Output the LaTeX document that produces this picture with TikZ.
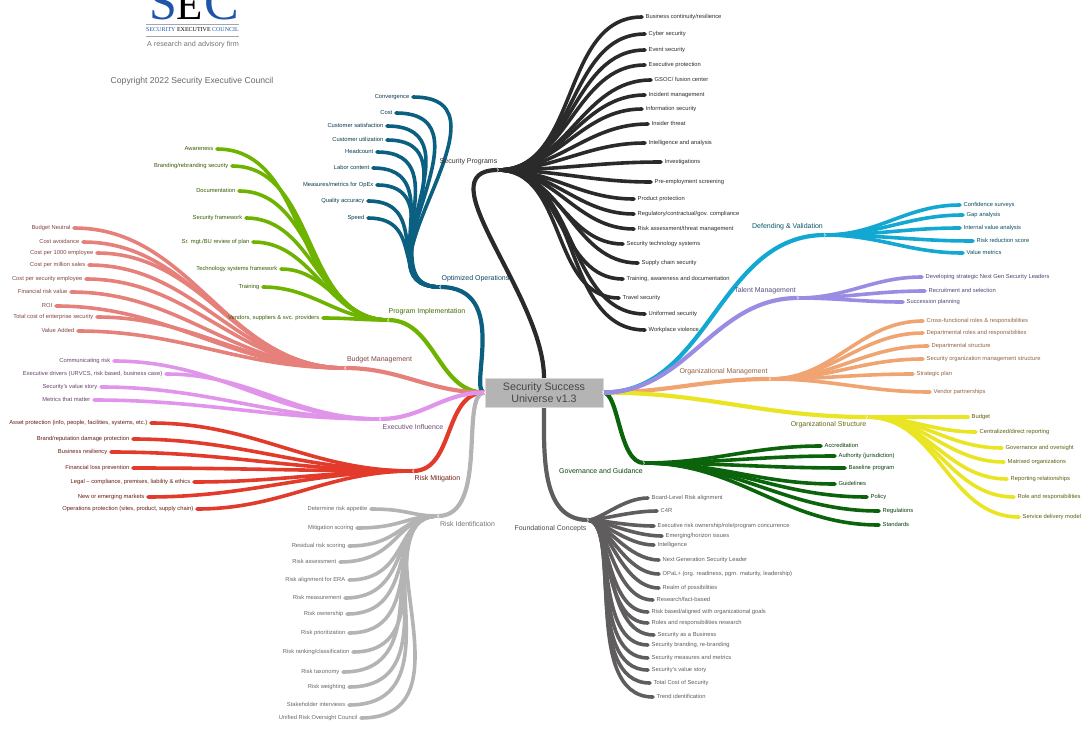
\documentclass[tikz,border=0pt]{standalone}
\usepackage{fontspec}
\setmainfont{Liberation Sans}
\newfontfamily\logofont{Liberation Serif}
\usetikzlibrary{backgrounds}
\definecolor{proggray}{HTML}{2A2A2A}
\definecolor{opsblue}{HTML}{0B5F80}
\definecolor{implgreen}{HTML}{6DB300}
\definecolor{budgetred}{HTML}{E6807A}
\definecolor{execpink}{HTML}{E095EA}
\definecolor{mitigred}{HTML}{E23B2B}
\definecolor{identgray}{HTML}{B4B4B4}
\definecolor{foundgray}{HTML}{5F5D5D}
\definecolor{defendcyan}{HTML}{12A8D2}
\definecolor{talentpurple}{HTML}{9A8CE2}
\definecolor{mgmtorange}{HTML}{F0A472}
\definecolor{structyellow}{HTML}{E9E522}
\definecolor{govgreen}{HTML}{0B640B}
\definecolor{logoblue}{HTML}{1F55A8}
\tikzset{
  curveleft/.style={line width=3.6pt,line cap=round,out=180,in=0},
  curveright/.style={line width=3.6pt,line cap=round,out=0,in=180},
  trunk/.style={line width=4.2pt},
  leaf/.style={inner sep=0pt,inner xsep=3.5pt,text height=4.2pt,text depth=1.2pt,font=\fontsize{5.8}{6}\selectfont},
  leafl/.style={leaf,anchor=east},
  leafr/.style={leaf,anchor=west},
  mainlabel/.style={inner sep=0pt,font=\fontsize{7}{8}\selectfont},
  progline/.style={curveright,draw=proggray},
  opsline/.style={curveleft,draw=opsblue,out looseness=1.3,in looseness=1.5},
  implline/.style={curveleft,draw=implgreen},
  budgetline/.style={curveleft,draw=budgetred},
  execline/.style={curveleft,draw=execpink},
  mitigline/.style={curveleft,draw=mitigred},
  identline/.style={curveleft,draw=identgray,in looseness=1.4},
  foundline/.style={curveright,draw=foundgray,out looseness=.5},
  defendline/.style={curveright,draw=defendcyan},
  talentline/.style={curveright,draw=talentpurple},
  mgmtline/.style={curveright,draw=mgmtorange},
  structline/.style={curveright,draw=structyellow},
  govline/.style={curveright,draw=govgreen},
  chevl/.pic={\draw[white,line width=.5pt,line cap=butt,sharp corners] (1,-1.6) -- (-.6,0) -- (1,1.6);},
  chevr/.pic={\draw[white,line width=.5pt,line cap=butt,sharp corners] (-1,-1.6) -- (.6,0) -- (-1,1.6);},
}
\begin{document}
\begin{tikzpicture}[x=1pt,y=-1pt]
    \useasboundingbox (0,0) rectangle (1088,734);

    % logo
    \begin{scope}
        \clip (0,0) rectangle (1088,60);
        \node[logoblue,inner sep=0pt,font=\logofont\fontsize{50}{50}\selectfont,anchor=base] (logos) at (163.5,19.5) {S};
        \node[black,inner sep=0pt,font=\logofont\fontsize{43}{43}\selectfont,anchor=base] (logoe) at (190,19.5) {E};
        \node[logoblue,inner sep=0pt,font=\logofont\fontsize{52}{52}\selectfont,anchor=base] (logoc) at (222,19.5) {C};
        \draw[gray!70,line width=.9pt] (146,24) -- (239,24);
        \draw[gray!70,line width=.9pt] (146,36) -- (239,36);
    \end{scope}
    \node[inner sep=0pt,font=\logofont\fontsize{6}{6}\selectfont] (logoname) at (192.5,30) {\textcolor{logoblue}{SECURITY} EXECUTIVE \textcolor{logoblue}{COUNCIL}};
    \node[gray!90!black,inner sep=0pt,font=\fontsize{7.2}{8}\selectfont] (logofirm) at (193,44.5) {A research and advisory firm};
    \node[black!60,inner sep=0pt,font=\fontsize{8.6}{10}\selectfont] (copyright) at (192,81.5) {Copyright 2022 Security Executive Council};

    % centre
    \node[fill=identgray,draw=black!15,line width=.4pt,minimum width=118pt,minimum height=29pt,inner sep=0pt,align=center,text=black!72,font=\fontsize{10.7}{12.4}\selectfont] (center) at (544,392.5) {Security Success\\Universe v1.3};

    % hubs
    \coordinate (proghub) at (498,170);
    \coordinate (opshub) at (440,287);
    \coordinate (implhub) at (388,320);
    \coordinate (budgethub) at (345,368);
    \coordinate (exechub) at (380,419);
    \coordinate (mitighub) at (413,471);
    \coordinate (identhub) at (438,516);
    \coordinate (foundhub) at (588,520);
    \coordinate (govhub) at (644,463);
    \coordinate (structhub) at (867,417);
    \coordinate (mgmthub) at (770,379);
    \coordinate (talenthub) at (798,298);
    \coordinate (defendhub) at (825,235);

    % main labels
    \node[mainlabel,text=black!80] (prog) at (468.5,162) {Security Programs};
    \node[mainlabel,text=opsblue!75!black] (ops) at (475.5,279) {Optimized Operations};
    \node[mainlabel,text=implgreen!60!black] (impl) at (427,312) {Program Implementation};
    \node[mainlabel,text=budgetred!55!black] (budget) at (379.5,360) {Budget Management};
    \node[mainlabel,text=execpink!50!black] (exec) at (413,427) {Executive Influence};
    \node[mainlabel,text=mitigred!50!black] (mitig) at (437.5,479) {Risk Mitigation};
    \node[mainlabel,text=black!55] (ident) at (467.5,524) {Risk Identification};
    \node[mainlabel,text=black!70] (found) at (550.5,529) {Foundational Concepts};
    \node[mainlabel,text=govgreen!70!black] (gov) at (601,471) {Governance and Guidance};
    \node[mainlabel,text=structyellow!45!black] (struct) at (828.5,425) {Organizational Structure};
    \node[mainlabel,text=mgmtorange!60!black] (mgmt) at (723.5,372) {Organizational Management};
    \node[mainlabel,text=talentpurple!55!black] (talent) at (765,291) {Talent Management};
    \node[mainlabel,text=defendcyan!50!black] (defend) at (787.5,227) {Defending \& Validation};

    % security programs
    \node[leafr,text=proggray] (continuity) at (642,17) {Business continuity/resilience};
    \node[leafr,text=proggray] (cyber) at (645,34) {Cyber security};
    \node[leafr,text=proggray] (event) at (645,50) {Event security};
    \node[leafr,text=proggray] (execprot) at (645,65) {Executive protection};
    \node[leafr,text=proggray] (gsoc) at (651,80) {GSOC/ fusion center};
    \node[leafr,text=proggray] (incident) at (645,95) {Incident management};
    \node[leafr,text=proggray] (infosec) at (642,109) {Information security};
    \node[leafr,text=proggray] (insider) at (648,124) {Insider threat};
    \node[leafr,text=proggray] (intel) at (645,143) {Intelligence and analysis};
    \node[leafr,text=proggray] (invest) at (661,162) {Investigations};
    \node[leafr,text=proggray] (preemp) at (651,182) {Pre-employment screening};
    \node[leafr,text=proggray] (product) at (634,199) {Product protection};
    \node[leafr,text=proggray] (regul) at (634,214) {Regulatory/contractual/gov. compliance};
    \node[leafr,text=proggray] (threat) at (634,229) {Risk assessment/threat management};
    \node[leafr,text=proggray] (techsys) at (623,244) {Security technology systems};
    \node[leafr,text=proggray] (supply) at (638,263) {Supply chain security};
    \node[leafr,text=proggray] (training) at (623,279) {Training, awareness and documentation};
    \node[leafr,text=proggray] (travel) at (619,298) {Travel security};
    \node[leafr,text=proggray] (uniform) at (645,314) {Uniformed security};
    \node[leafr,text=proggray] (violence) at (645,330) {Workplace violence};

    % optimized operations
    \node[leafl,text=opsblue!60!black] (converg) at (413,97) {Convergence};
    \node[leafl,text=opsblue!60!black] (cost) at (396,113) {Cost};
    \node[leafl,text=opsblue!60!black] (custsat) at (387,126) {Customer satisfaction};
    \node[leafl,text=opsblue!60!black] (custuse) at (387,140) {Customer utilization};
    \node[leafl,text=opsblue!60!black] (headcount) at (377,152) {Headcount};
    \node[leafl,text=opsblue!60!black] (labor) at (373,168) {Labor content};
    \node[leafl,text=opsblue!60!black] (opex) at (377,185) {Measures/metrics for OpEx};
    \node[leafl,text=opsblue!60!black] (quality) at (368,201) {Quality accuracy};
    \node[leafl,text=opsblue!60!black] (speed) at (368,218) {Speed};

    % program implementation
    \node[leafl,text=implgreen!50!black] (aware) at (217,149) {Awareness};
    \node[leafl,text=implgreen!50!black] (brand) at (232,166) {Branding/rebranding security};
    \node[leafl,text=implgreen!50!black] (docu) at (239,191) {Documentation};
    \node[leafl,text=implgreen!50!black] (frame) at (246,218) {Security framework};
    \node[leafl,text=implgreen!50!black] (review) at (253,242) {Sr. mgt./BU review of plan};
    \node[leafl,text=implgreen!50!black] (techframe) at (281,269) {Technology systems framework};
    \node[leafl,text=implgreen!50!black] (train) at (263,287) {Training};
    \node[leafl,text=implgreen!50!black] (vendors) at (323,318) {Vendors, suppliers \& svc. providers};

    % budget management
    \node[leafl,text=budgetred!55!black] (neutral) at (74,228) {Budget Neutral};
    \node[leafl,text=budgetred!55!black] (avoid) at (83,242) {Cost avoidance};
    \node[leafl,text=budgetred!55!black] (perk) at (97,253) {Cost per 1000 employee};
    \node[leafl,text=budgetred!55!black] (permil) at (89,265) {Cost per million sales};
    \node[leafl,text=budgetred!55!black] (persec) at (86,279) {Cost per security employee};
    \node[leafl,text=budgetred!55!black] (finrisk) at (71,292) {Financial risk value};
    \node[leafl,text=budgetred!55!black] (roi) at (56,306) {ROI};
    \node[leafl,text=budgetred!55!black] (totalent) at (97,317) {Total cost of enterprise security};
    \node[leafl,text=budgetred!55!black] (added) at (78,331) {Value Added};

    % executive influence
    \node[leafl,text=execpink!45!black] (commrisk) at (114,361) {Communicating risk};
    \node[leafl,text=execpink!45!black] (drivers) at (166,374) {Executive drivers (URVCS, risk based, business case)};
    \node[leafl,text=execpink!45!black] (story) at (101,387) {Security's value story};
    \node[leafl,text=execpink!45!black] (matter) at (94,400) {Metrics that matter};

    % risk mitigation
    \node[leafl,text=mitigred!45!black] (asset) at (151,423) {Asset protection (info, people, facilities, systems, etc.)};
    \node[leafl,text=mitigred!45!black] (reput) at (133,439) {Brand/reputation damage protection};
    \node[leafl,text=mitigred!45!black] (resil) at (111,452) {Business resiliency};
    \node[leafl,text=mitigred!45!black] (finloss) at (133,468) {Financial loss prevention};
    \node[leafl,text=mitigred!45!black] (legal) at (194,482) {Legal – compliance, premises, liability \& ethics};
    \node[leafl,text=mitigred!45!black] (markets) at (148,497) {New or emerging markets};
    \node[leafl,text=mitigred!45!black] (opsprot) at (197,509) {Operations protection (sites, product, supply chain)};

    % risk identification
    \node[leafl,text=black!60] (appetite) at (371,509) {Determine risk appetite};
    \node[leafl,text=black!60] (mitscore) at (357,528) {Mitigation scoring};
    \node[leafl,text=black!60] (residual) at (349,546) {Residual risk scoring};
    \node[leafl,text=black!60] (assess) at (340,562) {Risk assessment};
    \node[leafl,text=black!60] (era) at (349,580) {Risk alignment for ERA};
    \node[leafl,text=black!60] (measure) at (345,598) {Risk measurement};
    \node[leafl,text=black!60] (owner) at (347,614) {Risk ownership};
    \node[leafl,text=black!60] (prior) at (349,633) {Risk prioritization};
    \node[leafl,text=black!60] (ranking) at (353,652) {Risk ranking/classification};
    \node[leafl,text=black!60] (taxon) at (343,672) {Risk taxonomy};
    \node[leafl,text=black!60] (weight) at (349,687) {Risk weighting};
    \node[leafl,text=black!60] (stake) at (349,705) {Stakeholder interviews};
    \node[leafl,text=black!60] (unified) at (361,718) {Unified Risk Oversight Council};

    % foundational concepts
    \node[leafr,text=foundgray] (board) at (648,498) {Board-Level Risk alignment};
    \node[leafr,text=foundgray] (cfour) at (657,511) {C4R};
    \node[leafr,text=foundgray] (ownership) at (654,526) {Executive risk ownership/role/program concurrence};
    \node[leafr,text=foundgray] (horizon) at (662,536) {Emerging/horizon issues};
    \node[leafr,text=foundgray] (intellig) at (654,545) {Intelligence};
    \node[leafr,text=foundgray] (nextgen) at (659,560) {Next Generation Security Leader};
    \node[leafr,text=foundgray] (opal) at (659,574) {OPaL+ (org. readiness, pgm. maturity, leadership)};
    \node[leafr,text=foundgray] (realm) at (659,588) {Realm of possibilities};
    \node[leafr,text=foundgray] (research) at (653,600) {Research/fact-based};
    \node[leafr,text=foundgray] (goals) at (648,612) {Risk based/aligned with organizational goals};
    \node[leafr,text=foundgray] (roles) at (648,623) {Roles and responsibilities research};
    \node[leafr,text=foundgray] (business) at (654,635) {Security as a Business};
    \node[leafr,text=foundgray] (rebrand) at (648,645) {Security branding, re-branding};
    \node[leafr,text=foundgray] (metrics) at (648,658) {Security measures and metrics};
    \node[leafr,text=foundgray] (valstory) at (648,670) {Security's value story};
    \node[leafr,text=foundgray] (tco) at (650,683) {Total Cost of Security};
    \node[leafr,text=foundgray] (trend) at (653,697) {Trend identification};

    % governance and guidance
    \node[leafr,text=govgreen!60!black] (accred) at (821,446) {Accreditation};
    \node[leafr,text=govgreen!60!black] (juris) at (835,456) {Authority (jurisdiction)};
    \node[leafr,text=govgreen!60!black] (baseline) at (845,468) {Baseline program};
    \node[leafr,text=govgreen!60!black] (guide) at (835,484) {Guidelines};
    \node[leafr,text=govgreen!60!black] (policy) at (867,497) {Policy};
    \node[leafr,text=govgreen!60!black] (regs) at (879,511) {Regulations};
    \node[leafr,text=govgreen!60!black] (stand) at (879,525) {Standards};

    % organizational structure
    \node[leafr,text=structyellow!40!black] (sbudget) at (968,417) {Budget};
    \node[leafr,text=structyellow!40!black] (central) at (976,432) {Centralized/direct reporting};
    \node[leafr,text=structyellow!40!black] (oversight) at (1002,448) {Governance and oversight};
    \node[leafr,text=structyellow!40!black] (matrix) at (1004,462) {Matrixed organizations};
    \node[leafr,text=structyellow!40!black] (report) at (1007,479) {Reporting relationships};
    \node[leafr,text=structyellow!40!black] (rolresp) at (1014,497) {Role and responsibilities};
    \node[leafr,text=structyellow!40!black] (service) at (1019,517) {Service delivery model};

    % organizational management
    \node[leafr,text=mgmtorange!60!black] (cross) at (923,321) {Cross-functional roles \& responsibilities};
    \node[leafr,text=mgmtorange!60!black] (deproles) at (923,333) {Departmental roles and responsibilities};
    \node[leafr,text=mgmtorange!60!black] (depstruct) at (928,346) {Departmental structure};
    \node[leafr,text=mgmtorange!60!black] (secorg) at (923,359) {Security organization management structure};
    \node[leafr,text=mgmtorange!60!black] (plan) at (913,374) {Strategic plan};
    \node[leafr,text=mgmtorange!60!black] (partner) at (930,392) {Vendor partnerships};

    % talent management
    \node[leafr,text=talentpurple!50!black] (leaders) at (922,277) {Developing strategic Next Gen Security Leaders};
    \node[leafr,text=talentpurple!50!black] (recruit) at (925,291) {Recruitment and selection};
    \node[leafr,text=talentpurple!50!black] (success) at (903,302) {Succession planning};

    % defending and validation
    \node[leafr,text=defendcyan!45!black] (confid) at (960,205) {Confidence surveys};
    \node[leafr,text=defendcyan!45!black] (gap) at (963,215) {Gap analysis};
    \node[leafr,text=defendcyan!45!black] (internal) at (960,228) {Internal value analysis};
    \node[leafr,text=defendcyan!45!black] (reduce) at (973,241) {Risk reduction score};
    \node[leafr,text=defendcyan!45!black] (valmet) at (963,253) {Value metrics};

    \begin{scope}[on background layer]
    \draw[progline](proghub) to (continuity.west);
    \draw[progline](proghub) to (cyber.west);
    \draw[progline](proghub) to (event.west);
    \draw[progline](proghub) to (execprot.west);
    \draw[progline](proghub) to (gsoc.west);
    \draw[progline](proghub) to (incident.west);
    \draw[progline](proghub) to (infosec.west);
    \draw[progline](proghub) to (insider.west);
    \draw[progline](proghub) to (intel.west);
    \draw[progline](proghub) to (invest.west);
    \draw[progline](proghub) to (preemp.west);
    \draw[progline](proghub) to (product.west);
    \draw[progline](proghub) to (regul.west);
    \draw[progline](proghub) to (threat.west);
    \draw[progline](proghub) to (techsys.west);
    \draw[progline](proghub) to (supply.west);
    \draw[progline](proghub) to (training.west);
    \draw[progline](proghub) to (travel.west);
    \draw[progline](proghub) to (uniform.west);
    \draw[progline](proghub) to (violence.west);
    \draw[progline,trunk](center.north) to[out=90,in=180,in looseness=.9] (proghub) pic {chevr};

    \draw[opsline](opshub) to (converg.east);
    \draw[opsline](opshub) to (cost.east);
    \draw[opsline](opshub) to (custsat.east);
    \draw[opsline](opshub) to (custuse.east);
    \draw[opsline](opshub) to (headcount.east);
    \draw[opsline](opshub) to (labor.east);
    \draw[opsline](opshub) to (opex.east);
    \draw[opsline](opshub) to (quality.east);
    \draw[opsline](opshub) to (speed.east);
    \draw[opsline,trunk,out looseness=.4,in looseness=1.6](center.west) to (opshub) pic {chevl};

    \draw[implline](implhub) to (aware.east);
    \draw[implline](implhub) to (brand.east);
    \draw[implline](implhub) to (docu.east);
    \draw[implline](implhub) to (frame.east);
    \draw[implline](implhub) to (review.east);
    \draw[implline](implhub) to (techframe.east);
    \draw[implline](implhub) to (train.east);
    \draw[implline](implhub) to (vendors.east);
    \draw[implline,trunk](center.west) to (implhub) pic {chevl};

    \draw[budgetline](budgethub) to (neutral.east);
    \draw[budgetline](budgethub) to (avoid.east);
    \draw[budgetline](budgethub) to (perk.east);
    \draw[budgetline](budgethub) to (permil.east);
    \draw[budgetline](budgethub) to (persec.east);
    \draw[budgetline](budgethub) to (finrisk.east);
    \draw[budgetline](budgethub) to (roi.east);
    \draw[budgetline](budgethub) to (totalent.east);
    \draw[budgetline](budgethub) to (added.east);
    \draw[budgetline,trunk](center.west) to (budgethub) pic {chevl};

    \draw[mitigline](mitighub) to (asset.east);
    \draw[mitigline](mitighub) to (reput.east);
    \draw[mitigline](mitighub) to (resil.east);
    \draw[mitigline](mitighub) to (finloss.east);
    \draw[mitigline](mitighub) to (legal.east);
    \draw[mitigline](mitighub) to (markets.east);
    \draw[mitigline](mitighub) to (opsprot.east);
    \draw[mitigline,trunk](center.west) to (mitighub) pic {chevl};

    \draw[identline](identhub) to (appetite.east);
    \draw[identline](identhub) to (mitscore.east);
    \draw[identline](identhub) to (residual.east);
    \draw[identline](identhub) to (assess.east);
    \draw[identline](identhub) to (era.east);
    \draw[identline](identhub) to (measure.east);
    \draw[identline](identhub) to (owner.east);
    \draw[identline](identhub) to (prior.east);
    \draw[identline](identhub) to (ranking.east);
    \draw[identline](identhub) to (taxon.east);
    \draw[identline](identhub) to (weight.east);
    \draw[identline](identhub) to (stake.east);
    \draw[identline](identhub) to (unified.east);
    \draw[identline,trunk,out looseness=.5,in looseness=1](center.west) to (identhub) pic {chevl};

    \draw[execline](exechub) to (commrisk.east);
    \draw[execline](exechub) to (drivers.east);
    \draw[execline](exechub) to (story.east);
    \draw[execline](exechub) to (matter.east);
    \draw[execline,trunk](center.west) to (exechub) pic {chevl};

    \draw[foundline](foundhub) to (board.west);
    \draw[foundline](foundhub) to (cfour.west);
    \draw[foundline](foundhub) to (ownership.west);
    \draw[foundline](foundhub) to (horizon.west);
    \draw[foundline](foundhub) to (intellig.west);
    \draw[foundline](foundhub) to (nextgen.west);
    \draw[foundline](foundhub) to (opal.west);
    \draw[foundline](foundhub) to (realm.west);
    \draw[foundline](foundhub) to (research.west);
    \draw[foundline](foundhub) to (goals.west);
    \draw[foundline](foundhub) to (roles.west);
    \draw[foundline](foundhub) to (business.west);
    \draw[foundline](foundhub) to (rebrand.west);
    \draw[foundline](foundhub) to (metrics.west);
    \draw[foundline](foundhub) to (valstory.west);
    \draw[foundline](foundhub) to (tco.west);
    \draw[foundline](foundhub) to (trend.west);
    \draw[foundline,trunk](center.south) to[out=270,in=180,out looseness=1,in looseness=1] (foundhub) pic {chevr};

    \draw[govline](govhub) to (accred.west);
    \draw[govline](govhub) to (juris.west);
    \draw[govline](govhub) to (baseline.west);
    \draw[govline](govhub) to (guide.west);
    \draw[govline](govhub) to (policy.west);
    \draw[govline](govhub) to (regs.west);
    \draw[govline](govhub) to (stand.west);
    \draw[govline,trunk,out looseness=.5,in looseness=.8](center.east) to (govhub) pic {chevr};

    \draw[mgmtline](mgmthub) to (cross.west);
    \draw[mgmtline](mgmthub) to (deproles.west);
    \draw[mgmtline](mgmthub) to (depstruct.west);
    \draw[mgmtline](mgmthub) to (secorg.west);
    \draw[mgmtline](mgmthub) to (plan.west);
    \draw[mgmtline](mgmthub) to (partner.west);
    \draw[mgmtline,trunk](center.east) to (mgmthub) pic {chevr};

    \draw[structline](structhub) to (sbudget.west);
    \draw[structline](structhub) to (central.west);
    \draw[structline](structhub) to (oversight.west);
    \draw[structline](structhub) to (matrix.west);
    \draw[structline](structhub) to (report.west);
    \draw[structline](structhub) to (rolresp.west);
    \draw[structline](structhub) to (service.west);
    \draw[structline,trunk](center.east) to (structhub) pic {chevr};

    \draw[defendline](defendhub) to (confid.west);
    \draw[defendline](defendhub) to (gap.west);
    \draw[defendline](defendhub) to (internal.west);
    \draw[defendline](defendhub) to (reduce.west);
    \draw[defendline](defendhub) to (valmet.west);
    \draw[defendline,trunk](center.east) to (defendhub) pic {chevr};

    \draw[talentline](talenthub) to (leaders.west);
    \draw[talentline](talenthub) to (recruit.west);
    \draw[talentline](talenthub) to (success.west);
    \draw[talentline,trunk](center.east) to (talenthub) pic {chevr};
    \end{scope}

    \pic at (center.west) {chevl};
    \pic at (center.east) {chevr};
\end{tikzpicture}
\end{document}
